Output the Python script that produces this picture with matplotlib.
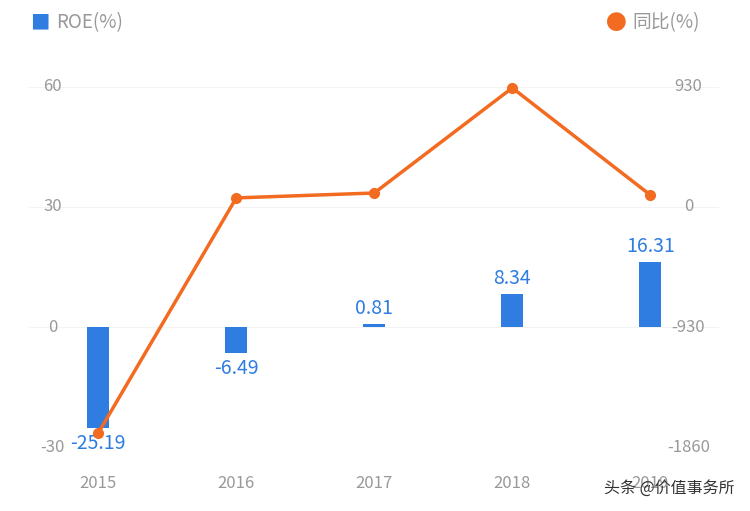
import matplotlib.pyplot as plt
import matplotlib.transforms as mtrans

plt.rcParams['font.family'] = ['Noto Sans CJK SC', 'DejaVu Sans']

years = ['2015', '2016', '2017', '2018', '2019']
roe = [-25.19, -6.49, 0.81, 8.34, 16.31]
yoy = [-1751, 70, 108, 922, 93]
left_ticks = [-30, 0, 30, 60]
right_ticks = [-1860, -930, 0, 930]

BLUE = '#2f7de1'
ORANGE = '#f26b21'
GRAY = '#999999'

fig = plt.figure(figsize=(7.5, 5.11), dpi=100)
ax = fig.add_axes([0.039, 0.125, 0.92, 0.705])
x = list(range(len(years)))
ax.bar(x, roe, width=0.16, color=BLUE, zorder=2)
ax.set_xlim(-0.5, 4.5)
ax.set_ylim(-30, 60)
for i, v in enumerate(roe):
    if v < 0:
        ax.text(i, v - 1.2, f'{v:.2f}', ha='center', va='top', color=BLUE, fontsize=14)
    else:
        ax.text(i, v + 1.2, f'{v:.2f}', ha='center', va='bottom', color=BLUE, fontsize=14)
for t in left_ticks:
    ax.axhline(t, color='#f3f3f3', lw=0.8, zorder=0)
ax.set_yticks([])
ax.set_xticks(x)
ax.set_xticklabels(years, color=GRAY, fontsize=12)
ax.tick_params(axis='x', length=0, pad=20)
for s in ax.spines.values():
    s.set_visible(False)

trl = mtrans.blended_transform_factory(fig.transFigure, ax.transData)
for t in left_ticks:
    ax.text(0.07, t, str(t), transform=trl, ha='center', va='center', color=GRAY, fontsize=12)

ax2 = ax.twinx()
ax2.set_ylim(-1860, 930)
ax2.plot(x, yoy, color=ORANGE, lw=2.5, marker='o', ms=7, zorder=3, clip_on=False)
ax2.set_yticks([])
for s in ax2.spines.values():
    s.set_visible(False)
trr = mtrans.blended_transform_factory(fig.transFigure, ax2.transData)
for t in right_ticks:
    ax2.text(0.918, t, str(t), transform=trr, ha='center', va='center', color=GRAY, fontsize=12)

fig.text(0.04, 0.955, '■', color=BLUE, fontsize=14, va='center')
fig.text(0.075, 0.955, 'ROE(%)', color=GRAY, fontsize=13.5, va='center')
fig.text(0.808, 0.955, '●', color=ORANGE, fontsize=15, va='center')
fig.text(0.843, 0.955, '同比(%)', color=GRAY, fontsize=13.5, va='center')
fig.text(0.98, 0.045, '头条 @价值事务所', color='#333333', fontsize=11.5, ha='right', va='center')

fig.savefig('out.png')
